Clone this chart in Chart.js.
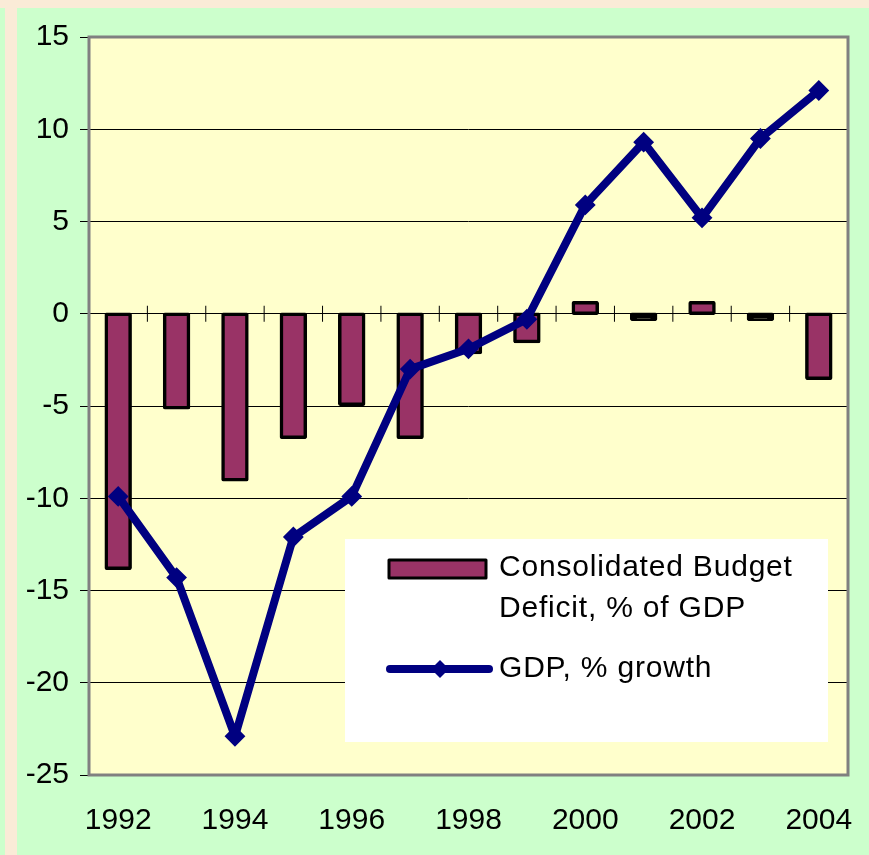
<!DOCTYPE html>
<html>
<head>
<meta charset="utf-8">
<script src="https://cdn.jsdelivr.net/npm/chart.js@4"></script>
<style>
  body { margin: 0; background: #faebd7; }
  #wrap { position: relative; width: 869px; height: 855px; overflow: hidden; background: #faebd7; }
  #green { position: absolute; left: 17px; top: 8px; right: 0; bottom: 0; background: #ccffcc; }
  #strip { position: absolute; left: 0; top: 8px; width: 5px; bottom: 0; background: #ccffcc; }
  #chart { position: absolute; left: 0; top: 0; }
</style>
</head>
<body>
<div id="wrap">
  <div id="strip"></div>
  <div id="green"></div>
  <canvas id="chart" width="869" height="855"></canvas>
</div>
<script>
var years = ["1992", "1993", "1994", "1995", "1996", "1997", "1998", "1999", "2000", "2001", "2002", "2003", "2004"];
var deficit = [-13.8, -5.1, -9.0, -6.7, -4.9, -6.7, -2.1, -1.5, 0.6, -0.3, 0.6, -0.3, -3.5];
var gdp = [-9.9, -14.3, -22.9, -12.1, -9.9, -3.0, -1.9, -0.3, 5.9, 9.3, 5.2, 9.5, 12.1];
var deficitLabel = ["Consolidated Budget", "Deficit, % of GDP"];
var gdpLabel = "GDP, % growth";
var yMin = -25;
var yMax = 15;
var yStep = 5;

var barColor = "#993366";
var lineColor = "#000080";
var fontName = "'Liberation Sans', Arial, sans-serif";

// yellow plot area, gray frame and the little ticks on the zero line
var plotFrame = {
  id: "plotFrame",
  beforeDraw: function (chart) {
    var a = chart.chartArea;
    var ctx = chart.ctx;
    ctx.save();
    ctx.fillStyle = "#ffffcc";
    ctx.fillRect(a.left, a.top, a.right - a.left, a.bottom - a.top);
    ctx.restore();
  },
  beforeDatasetsDraw: function (chart) {
    var a = chart.chartArea;
    var ctx = chart.ctx;
    var x = chart.scales.x;
    var y0 = chart.scales.y.getPixelForValue(0);
    ctx.save();
    ctx.strokeStyle = "#000000";
    ctx.lineWidth = 1;
    for (var i = 1; i < years.length; i++) {
      var xb = (x.getPixelForValue(i - 1) + x.getPixelForValue(i)) / 2;
      ctx.beginPath();
      ctx.moveTo(xb, y0 - 8);
      ctx.lineTo(xb, y0 + 8);
      ctx.stroke();
    }
    ctx.strokeStyle = "#808080";
    ctx.lineWidth = 3;
    ctx.strokeRect(a.left, a.top, a.right - a.left, a.bottom - a.top);
    ctx.restore();
  },
  afterDraw: function (chart) {
    var ctx = chart.ctx;
    var ds = chart.data.datasets;
    ctx.save();
    ctx.fillStyle = "#ffffff";
    ctx.fillRect(345, 539, 483, 203);

    // bar swatch
    ctx.fillStyle = barColor;
    ctx.strokeStyle = "#000000";
    ctx.lineWidth = 3;
    ctx.lineJoin = "round";
    ctx.fillRect(389, 560, 97, 18);
    ctx.strokeRect(389, 560, 97, 18);

    // line swatch
    ctx.strokeStyle = lineColor;
    ctx.lineWidth = 8;
    ctx.lineCap = "round";
    ctx.beginPath();
    ctx.moveTo(390, 669);
    ctx.lineTo(489, 669);
    ctx.stroke();
    ctx.fillStyle = lineColor;
    ctx.beginPath();
    ctx.moveTo(440, 660);
    ctx.lineTo(449, 669);
    ctx.lineTo(440, 678);
    ctx.lineTo(431, 669);
    ctx.closePath();
    ctx.fill();

    ctx.fillStyle = "#000000";
    ctx.font = "30px " + fontName;
    ctx.letterSpacing = "0.8px";
    ctx.textBaseline = "middle";
    ctx.textAlign = "left";
    ctx.fillText(ds[0].label[0], 499, 568);
    ctx.fillText(ds[0].label[1], 499, 609);
    ctx.fillText(ds[1].label, 499, 669);
    ctx.restore();
  }
};

var ctx = document.getElementById("chart").getContext("2d");
var chart = new Chart(ctx, {
  type: "bar",
  data: {
    labels: years,
    datasets: [
      {
        type: "bar",
        label: deficitLabel,
        data: deficit,
        // the tiny bars are all border in the original
        backgroundColor: function (c) {
          return Math.abs(c.raw) < 0.35 ? "#000000" : barColor;
        },
        borderColor: "#000000",
        borderWidth: 3.5,
        borderSkipped: false,
        borderRadius: 2,
        inflateAmount: 1.75,
        barPercentage: 0.41,
        categoryPercentage: 1,
        order: 2
      },
      {
        type: "line",
        label: gdpLabel,
        data: gdp,
        borderColor: lineColor,
        backgroundColor: lineColor,
        borderWidth: 8,
        borderJoinStyle: "round",
        borderCapStyle: "round",
        pointStyle: "rectRot",
        pointRadius: 9,
        pointBorderWidth: 2,
        pointBackgroundColor: lineColor,
        pointBorderColor: lineColor,
        tension: 0,
        order: 1
      }
    ]
  },
  options: {
    responsive: false,
    animation: false,
    layout: { padding: { left: 0, top: 37, right: 21, bottom: 0 } },
    plugins: {
      legend: { display: false },
      tooltip: { enabled: false }
    },
    scales: {
      x: {
        offset: true,
        grid: { display: false },
        border: { display: false },
        ticks: {
          autoSkip: false,
          maxRotation: 0,
          padding: 20,
          color: "#000000",
          font: { family: fontName, size: 30 },
          callback: function (value, index) {
            return index % 2 === 0 ? years[index] : "";
          }
        },
        afterFit: function (scale) {
          scale.height = 80;
          scale.paddingLeft = 0;
          scale.paddingRight = 0;
        }
      },
      y: {
        min: yMin,
        max: yMax,
        border: { display: false },
        grid: {
          color: "#000000",
          lineWidth: 1,
          tickLength: 9
        },
        ticks: {
          stepSize: yStep,
          padding: 11,
          color: "#000000",
          font: { family: fontName, size: 30 }
        },
        afterFit: function (scale) {
          scale.width = 89;
        }
      }
    }
  },
  plugins: [plotFrame]
});
</script>
</body>
</html>
